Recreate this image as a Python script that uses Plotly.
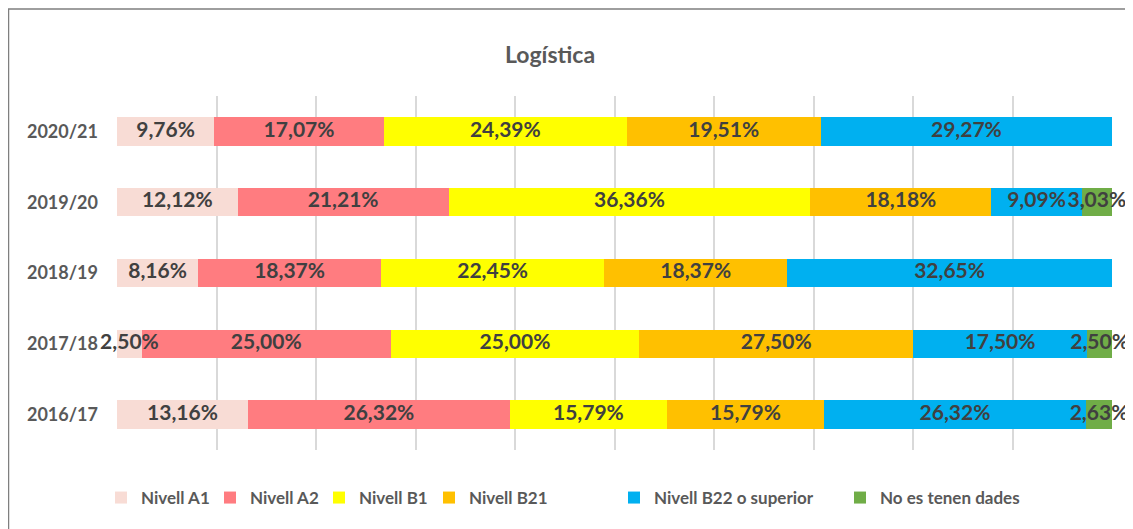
import plotly.graph_objects as go

years = ["2020/21", "2019/20", "2018/19", "2017/18", "2016/17"]
series_names = ["Nivell A1", "Nivell A2", "Nivell B1", "Nivell B21",
                "Nivell B22 o superior", "No es tenen dades"]
nivell_a1 = [9.76, 12.12, 8.16, 2.50, 13.16]
nivell_a2 = [17.07, 21.21, 18.37, 25.00, 26.32]
nivell_b1 = [24.39, 36.36, 22.45, 25.00, 15.79]
nivell_b21 = [19.51, 18.18, 18.37, 27.50, 15.79]
nivell_b22 = [29.27, 9.09, 32.65, 17.50, 26.32]
no_dades = [0, 3.03, 0, 2.50, 2.63]
colors = ["#F8DCD5", "#FF7C80", "#FFFF00", "#FFC000", "#00B0F0", "#70AD47"]
legend_left_px = [115, 224, 333, 443, 628, 854]  # page x of each legend square

series = [nivell_a1, nivell_a2, nivell_b1, nivell_b21, nivell_b22, no_dades]

FONT = "Lato"
W, H = 1125, 521  # page body has an 8px margin
L, T = 109, 88
R, B = 21, 79
PW = W - L - R
PH = H - T - B

fig = go.Figure()
legend_ids = ["legend"] + ["legend%d" % (i + 1) for i in range(1, len(series))]
for i, (name, vals, col) in enumerate(zip(series_names, series, colors)):
    fig.add_trace(go.Bar(
        y=years, x=vals, name=name, orientation="h",
        marker=dict(color=col, line=dict(width=0)),
        hoverinfo="skip", legend=legend_ids[i],
    ))

# data labels drawn above all bars, centred in each segment
lab_x, lab_y, lab_t = [], [], []
for r, yr in enumerate(years):
    cum = 0.0
    for vals in series:
        v = vals[r]
        if v > 0:
            lab_x.append(cum + v / 2)
            lab_y.append(yr)
            lab_t.append(("%.2f%%" % v).replace(".", ","))
        cum += v
fig.add_trace(go.Scatter(
    x=lab_x, y=lab_y, text=lab_t, mode="text", showlegend=False, cliponaxis=False,
    textposition="middle center", hoverinfo="skip",
    textfont=dict(family=FONT, size=21, color="#404040", weight="bold"),
))

layout_legends = {}
for i, lid in enumerate(legend_ids):
    layout_legends[lid] = dict(
        orientation="h", x=(legend_left_px[i] - 14 - 8 - L) / PW, xanchor="left",
        y=(442 - 490) / PH, yanchor="middle",
        font=dict(family=FONT, size=17, color="#595959", weight="bold"),
        itemwidth=30, bgcolor="rgba(0,0,0,0)", borderwidth=0)

fig.update_layout(
    barmode="stack",
    bargap=0.6,
    width=W, height=H,
    margin=dict(l=L, r=R, t=T, b=B),
    plot_bgcolor="white", paper_bgcolor="white",
    title=dict(text="Logística", x=(550 - 8) / W, xref="container", xanchor="center",
               y=1 - (55 - 8) / H, yref="container", yanchor="middle",
               font=dict(family=FONT, size=23, color="#595959", weight="bold")),
    showlegend=True,
    xaxis=dict(range=[0, 100], dtick=10, showgrid=True, gridcolor="#D9D9D9", gridwidth=1.5,
               showticklabels=False, zeroline=False, showline=False),
    yaxis=dict(categoryorder="array", categoryarray=years[::-1], showgrid=False,
               zeroline=False, showline=False, ticks="", ticklabelstandoff=18,
               tickfont=dict(family=FONT, size=18, color="#595959", weight="bold")),
    **layout_legends,
)

fig.add_shape(type="rect", xref="paper", yref="paper",
              x0=(0.5 - L) / PW, x1=1.05, y0=-0.3, y1=(PH + T - 1) / PH,
              line=dict(color="#7F7F7F", width=1.5), fillcolor="rgba(0,0,0,0)", layer="below")

fig.write_html("out.html")
